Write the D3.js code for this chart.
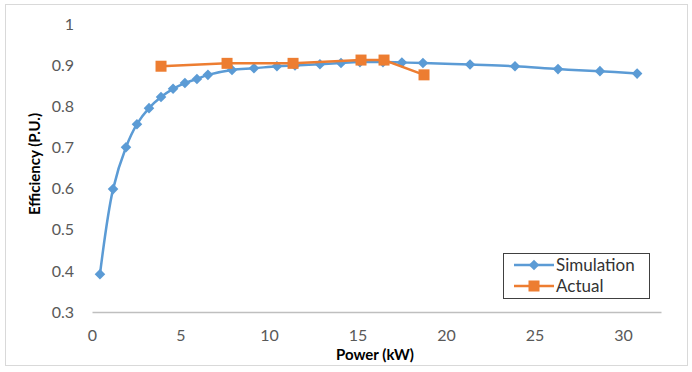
<!DOCTYPE html>
<html><head><meta charset="utf-8">
<script src="https://cdn.jsdelivr.net/npm/d3@7"></script>
<style>body{margin:0;background:#fff}svg{display:block}</style>
</head><body>
<svg id="c" width="692" height="372"></svg>
<script>
const simX = [0.45,1.19,1.92,2.54,3.22,3.9,4.58,5.25,5.93,6.55,7.91,9.15,10.45,11.47,12.88,14.07,15.14,16.44,17.51,18.7,21.36,23.9,26.33,28.7,30.8];
const simY = [0.392,0.599,0.701,0.757,0.796,0.823,0.843,0.857,0.867,0.877,0.889,0.893,0.898,0.9,0.903,0.906,0.908,0.908,0.907,0.906,0.902,0.898,0.891,0.886,0.88];
const actX = [3.9,7.63,11.36,15.2,16.5,18.76];
const actY = [0.898,0.905,0.905,0.913,0.913,0.877];
const xTicks = [0,5,10,15,20,25,30];
const yTicks = [0.3,0.4,0.5,0.6,0.7,0.8,0.9,1];
const seriesNames = ["Simulation","Actual"];
const colors = ["#5B9BD5","#ED7D31"];

const svg = d3.select("#c");
const font = "Lato, 'Liberation Sans', sans-serif";
svg.append("rect").attr("x",5.5).attr("y",4.5).attr("width",682).attr("height",361)
  .attr("fill","#fff").attr("stroke","#d9d9d9").attr("stroke-width",1);

const x = d3.scaleLinear().domain([0,32.15]).range([92,661]);
const y = d3.scaleLinear().domain([0.3,1.0]).range([312,24.3]);

// x axis
const xa = svg.append("g").attr("transform","translate(0,312)")
  .call(d3.axisBottom(x).tickValues(xTicks).tickSize(0).tickPadding(18).tickFormat(d3.format("d")));
xa.select(".domain").attr("stroke","#bfbfbf").attr("stroke-width",1.3);
xa.selectAll("text").attr("font-family",font).attr("font-size",16).attr("fill","#595959");

// y axis
const ya = svg.append("g").attr("transform","translate(76,0)")
  .call(d3.axisLeft(y).tickValues(yTicks).tickSize(0).tickPadding(2).tickFormat(d=>d===1?"1":d3.format(".1f")(d)));
ya.select(".domain").remove();
ya.selectAll("text").attr("font-family",font).attr("font-size",16).attr("fill","#595959");

// titles
svg.append("text").attr("x",375).attr("y",360).attr("text-anchor","middle")
  .attr("font-family",font).attr("font-weight","bold").attr("font-size",15).attr("fill","#000").text("Power (kW)");
svg.append("text").attr("transform","translate(40,164) rotate(-90)").attr("text-anchor","middle")
  .attr("font-family",font).attr("font-weight","bold").attr("font-size",15).attr("fill","#000").text("Efficiency (P.U.)");

const sim = simX.map((v,i)=>[v,simY[i]]);
const act = actX.map((v,i)=>[v,actY[i]]);

const lineSmooth = d3.line().x(d=>x(d[0])).y(d=>y(d[1])).curve(d3.curveCatmullRom.alpha(0.5));
const lineStraight = d3.line().x(d=>x(d[0])).y(d=>y(d[1]));

svg.append("path").attr("d",lineSmooth(sim)).attr("fill","none").attr("stroke",colors[0]).attr("stroke-width",2.5);
svg.append("g").selectAll("path").data(sim).join("path")
  .attr("transform",d=>`translate(${x(d[0])},${y(d[1])}) rotate(45)`)
  .attr("d",d3.symbol().type(d3.symbolSquare).size(56)).attr("fill",colors[0]);

svg.append("path").attr("d",lineStraight(act)).attr("fill","none").attr("stroke",colors[1]).attr("stroke-width",2.5);
svg.append("g").selectAll("rect").data(act).join("rect")
  .attr("x",d=>x(d[0])-5.5).attr("y",d=>y(d[1])-5.5).attr("width",11).attr("height",11).attr("fill",colors[1]);

// legend
const lg = svg.append("g");
lg.append("rect").attr("x",503.5).attr("y",253.5).attr("width",146).attr("height",45)
  .attr("fill","#fff").attr("stroke","#404040").attr("stroke-width",1);
seriesNames.forEach((n,i)=>{
  const yy = 265 + i*21;
  lg.append("line").attr("x1",514).attr("x2",554).attr("y1",yy).attr("y2",yy).attr("stroke",colors[i]).attr("stroke-width",2.5);
  if(i===0){
    lg.append("path").attr("transform",`translate(534,${yy}) rotate(45)`).attr("d",d3.symbol().type(d3.symbolSquare).size(56)).attr("fill",colors[i]);
  } else {
    lg.append("rect").attr("x",528.5).attr("y",yy-5.5).attr("width",11).attr("height",11).attr("fill",colors[i]);
  }
  lg.append("text").attr("x",556).attr("y",yy+6).attr("font-family",font).attr("font-size",17).attr("fill","#333").text(n);
});
</script>
</body></html>
